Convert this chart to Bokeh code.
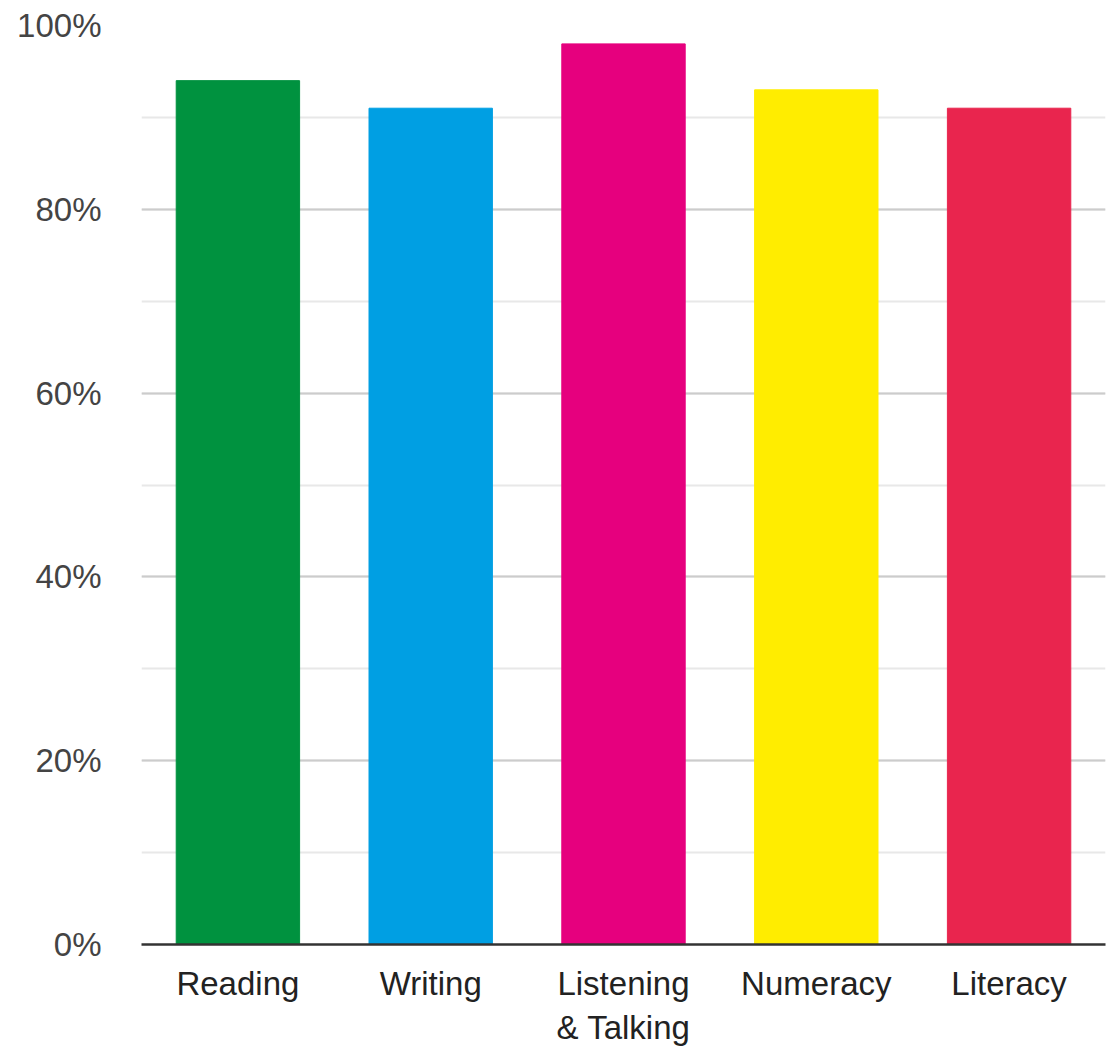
from bokeh.plotting import figure
from bokeh.models import ColumnDataSource, SingleIntervalTicker, NumeralTickFormatter, FactorRange, Range1d
from bokeh.embed import file_html
from bokeh.resources import INLINE

categories = ["Reading", "Writing", "Listening\n& Talking", "Numeracy", "Literacy"]
values = [0.94, 0.91, 0.98, 0.93, 0.91]
colors = ["#00923F", "#009FE3", "#E6007E", "#FFED00", "#E9254E"]

src = ColumnDataSource(dict(cat=categories, val=values, color=colors))

p = figure(width=1115, height=1048, x_range=FactorRange(*categories), y_range=Range1d(0, 1.0),
           output_backend="svg", toolbar_location=None,
           min_border_left=141, min_border_right=10, min_border_top=25, min_border_bottom=103)
p.outline_line_color = None
p.vbar(x="cat", top="val", width=0.64, color="color", source=src)
p.x_range.range_padding = 0

p.yaxis.ticker = SingleIntervalTicker(interval=0.2, num_minor_ticks=2)
p.yaxis.formatter = NumeralTickFormatter(format="0%")
p.yaxis.axis_line_color = None
p.yaxis.major_tick_line_color = None
p.yaxis.minor_tick_line_color = None
p.yaxis.major_label_text_font = "Liberation Sans"
p.yaxis.major_label_text_font_size = "33px"
p.yaxis.major_label_text_color = "#444444"
p.yaxis.major_label_standoff = 34

p.xaxis.axis_line_color = "#333333"
p.xaxis.axis_line_width = 2.5
p.xaxis.major_tick_line_color = None
p.xaxis.minor_tick_line_color = None
p.xaxis.major_label_text_font = "Liberation Sans"
p.xaxis.major_label_text_font_size = "33px"
p.xaxis.major_label_text_color = "#222222"
p.xaxis.major_label_standoff = 14

p.xgrid.grid_line_color = None
p.ygrid.grid_line_color = "#CCCCCC"
p.ygrid.grid_line_width = 2
p.ygrid.minor_grid_line_color = "#E8E8E8"
p.ygrid.minor_grid_line_width = 2
p.ygrid.level = "underlay"

open("out.html", "w").write(file_html(p, INLINE))
